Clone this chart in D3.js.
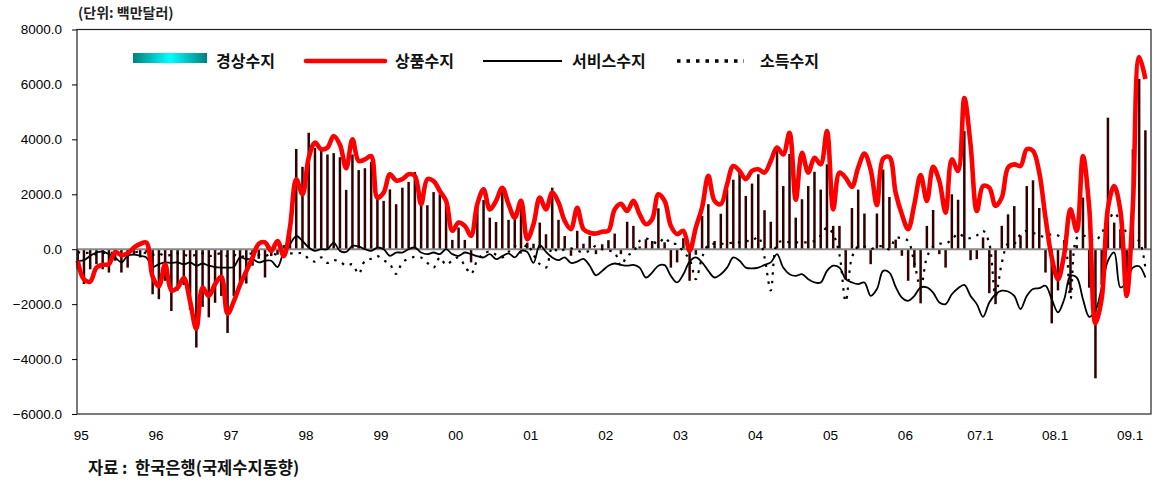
<!DOCTYPE html>
<html><head><meta charset="utf-8">
<script src="https://cdn.jsdelivr.net/npm/d3@7"></script>
<style>
body{margin:0;background:#fff;}
svg{display:block;}
</style></head>
<body>
<svg id="c" width="1153" height="484"></svg>
<script>
// ---- data (monthly, 1995.01 - 2009.04), unit: million USD ----
const xTickLabels = ["95","96","97","98","99","00","01","02","03","04","05","06","07.1","08.1","09.1"];
const yTicks = [-6000,-4000,-2000,0,2000,4000,6000,8000];
const seriesNames = ["경상수지","상품수지","서비스수지","소득수지"];

const currentAccount = [
 -730,-1270,-730,-545,-730,-850,-420,-850,-670,-180,-300,-120,
 -1640,-1820,-1150,-2250,-1500,-1300,-2200,-3580,-2100,-2480,-1950,-1700,
 -3050,-1700,-1250,-1250,-600,-350,-1030,-250,-200,150,900,3650,
 3000,4240,3690,3700,3450,3500,3350,2160,3450,2880,2950,3180,
 1880,1760,2180,1640,2240,2450,2810,1640,1600,2080,2000,1640,
 340,790,340,-480,1660,1790,1150,990,2150,1070,1150,1760,
 240,200,970,545,2240,1070,480,-240,670,200,480,-180,
 180,330,570,-180,1000,850,100,360,300,1490,250,-670,
 -480,400,-1150,-200,1210,1640,300,1290,2170,2530,2850,1940,
 2390,2730,1420,1000,3700,2300,3470,1150,1820,2300,2820,2170,
 3090,850,850,-1100,1500,2170,1300,-545,1300,2900,1900,350,
 -240,-1150,-670,-1970,850,1430,-180,-670,2000,1800,4300,-400,
 -360,430,-1600,-2000,850,1270,1570,500,2300,2510,1500,-850,
 -2700,-1500,300,-1580,150,1880,-1400,-4700,-1300,4790,970,730,
 -1600,3640,6200,4330
];
const goods = [
 -420,-1100,-1180,-670,-570,-545,-100,-220,-150,60,190,240,
 -1000,-1350,-545,-1500,-1400,-1050,-1900,-2900,-1400,-1700,-1270,-1000,
 -2350,-1900,-1300,-800,-300,200,250,-60,300,-250,800,2550,
 2000,3330,3880,3640,3700,4120,3800,2950,4000,3210,3270,3390,
 1880,2060,2730,2500,2550,2730,2670,1640,2550,2480,2120,1760,
 670,970,850,485,1640,2180,1450,1760,2240,1640,1150,1760,
 360,910,1880,1450,2060,1700,1030,730,1510,730,600,570,
 640,670,1450,1650,1390,1760,1270,910,1090,2000,1760,850,
 550,670,-60,790,1520,2670,1760,1640,2360,3030,2850,2550,
 2850,2910,2790,3210,3700,3450,4240,1800,3510,2790,3330,3090,
 4300,1450,2790,2600,2270,2970,3480,2900,1600,3300,3350,2060,
 1270,730,1640,2700,1760,3000,2480,1330,3270,2850,5500,3800,
 1390,2300,2240,1580,1880,2970,3090,3030,3640,3580,2790,1150,
 -300,-1090,-180,1450,670,3390,1520,-2700,-1800,1500,2300,1390,
 -1700,1600,7000,6200
];
const services = [
 -420,-400,-240,-120,-90,-180,-300,-480,-240,-200,-240,-300,
 -650,-545,-480,-500,-480,-550,-480,-600,-520,-600,-650,-670,
 -670,-650,-300,-360,-360,-480,-420,-420,-650,-100,180,480,
 300,60,-60,0,0,240,-60,-100,120,100,0,-60,
 60,0,-240,-120,-120,0,60,-120,-180,-120,-180,0,
 -180,-240,-120,-180,-250,-300,-180,-360,-250,-150,-300,-60,
 -100,-500,150,-100,-300,-400,-300,-500,-450,-350,-600,-950,
 -790,-600,-520,-570,-600,-570,-670,-1030,-850,-600,-580,-970,
 -1210,-910,-450,-300,-480,-790,-1030,-910,-670,-300,-420,-670,
 -700,-670,-570,-480,-180,-670,-910,-970,-910,-1090,-1210,-1210,
 -790,-600,-670,-1090,-1210,-1270,-1210,-1700,-1450,-790,-850,-1370,
 -1760,-1880,-1700,-1390,-1390,-1580,-1940,-2000,-1640,-1420,-1300,-1700,
 -2000,-2460,-1940,-1640,-1510,-1540,-1700,-2180,-1700,-1450,-1420,-1330,
 -1820,-2300,-1820,-970,-1030,-1820,-2460,-2240,-1390,-420,-120,-1390,
 -1200,-670,-620,-1030
];
const income = [
 -100,-150,-120,-200,-150,-100,-180,-150,-200,-120,-100,-150,
 -200,-150,-250,-200,-150,-200,-250,-200,-150,-250,-200,-150,
 -250,-200,-300,-200,-150,-200,-250,-150,-200,-100,-150,-150,
 -150,-350,-450,-300,-500,-400,-450,-600,-550,-900,-420,-350,
 -250,-400,-545,-900,-480,-350,-280,-300,-500,-670,-300,-570,
 -400,-300,-600,-900,-400,-180,-80,-200,-300,-100,120,-120,
 180,-200,-545,-670,60,-100,0,30,-50,-120,-50,120,
 0,-50,-120,-600,-240,-100,300,390,300,200,420,200,
 180,-100,-360,-1090,-300,150,200,200,200,250,250,300,
 300,450,-300,-1500,200,300,250,250,250,250,300,500,
 790,550,-200,-1900,-300,100,100,0,100,100,0,400,
 400,300,-500,-1400,-300,100,200,200,350,570,450,400,
 500,670,200,-1700,-500,200,200,545,670,600,500,450,
 550,500,300,-1800,400,500,400,300,600,970,1330,1000,
 600,400,300,-700
];
// month categories
const months = [];
for (let y = 1995; months.length < currentAccount.length; y++)
  for (let m = 1; m <= 12 && months.length < currentAccount.length; m++)
    months.push(y + "." + String(m).padStart(2, "0"));

// ---- drawing ----
const svg = d3.select("#c");
const L = 77, R = 1151, T = 29.5, B = 414;
const x = d3.scaleLinear().domain([0, months.length - 1]).range([77.7, 1145.4]);
const y = d3.scaleLinear().domain([-6000, 8000]).range([B, T]);
const latin = "'Liberation Sans', Arial, sans-serif";
const kor = "'Noto Sans CJK KR', 'Noto Sans', sans-serif";

// gradient for legend
const defs = svg.append("defs");
const g = defs.append("linearGradient").attr("id","teal").attr("x1","0").attr("x2","1").attr("y1","0").attr("y2","0");
g.append("stop").attr("offset","0").attr("stop-color","#008080");
g.append("stop").attr("offset","0.5").attr("stop-color","#00ffff");
g.append("stop").attr("offset","1").attr("stop-color","#008080");

// unit label
svg.append("text").attr("x", 78).attr("y", 18).attr("font-family", kor).attr("font-size", 14)
  .attr("font-weight","bold").attr("fill","#222").text("(단위: 백만달러)");

// bars (current account)
svg.append("g").selectAll("rect").data(currentAccount).join("rect")
  .attr("x", (d,i) => x(i) - 1.25)
  .attr("width", 2.5)
  .attr("y", d => Math.min(y(d), y(0)))
  .attr("height", d => Math.abs(y(d) - y(0)))
  .attr("fill", "#330000");

// zero line
svg.append("line").attr("x1", L).attr("x2", R).attr("y1", y(0)).attr("y2", y(0))
  .attr("stroke", "#888").attr("stroke-width", 2);

const curve = d3.curveCatmullRom.alpha(0.5);
const line = d3.line().x((d,i) => x(i)).y(d => y(d)).curve(curve);

// income (dotted)
svg.append("path").attr("d", line(income)).attr("fill","none").attr("stroke","#000")
  .attr("stroke-width", 2.2).attr("stroke-dasharray","2.5,6");
// services
svg.append("path").attr("d", line(services)).attr("fill","none").attr("stroke","#000")
  .attr("stroke-width", 1.8);
// goods
svg.append("path").attr("d", line(goods)).attr("fill","none").attr("stroke","#ff0000")
  .attr("stroke-width", 4.6).attr("stroke-linejoin","round");

// frame
svg.append("rect").attr("x", L).attr("y", T).attr("width", R - L).attr("height", B - T)
  .attr("fill","none").attr("stroke","#222").attr("stroke-width", 1.2);

// y axis
const yAxis = d3.axisLeft(y).tickValues(yTicks).tickFormat(d3.format(".1f")).tickSize(5).tickPadding(10);
const ya = svg.append("g").attr("transform", `translate(${L},0)`).call(yAxis);
ya.select(".domain").remove();
ya.selectAll("text").attr("font-family", latin).attr("font-size", 13.5).attr("fill","#000");
ya.selectAll("line").attr("stroke","#000");

// x axis labels
const xIdx = xTickLabels.map((d,k) => k * 12);
const xAxis = d3.axisBottom(x).tickValues(xIdx).tickFormat((d,k) => xTickLabels[k]).tickSize(0).tickPadding(16);
const xa = svg.append("g").attr("transform", `translate(3,${B})`).call(xAxis);
xa.select(".domain").remove();
xa.selectAll("text").attr("font-family", latin).attr("font-size", 13.5).attr("fill","#000");

// legend
const lg = svg.append("g").attr("font-family", kor).attr("font-size", 16).attr("font-weight","bold").attr("fill","#111");
lg.append("rect").attr("x",133).attr("y",53).attr("width",74).attr("height",10).attr("fill","url(#teal)");
lg.append("text").attr("x",216).attr("y",67).text(seriesNames[0]);
lg.append("line").attr("x1",306).attr("x2",385).attr("y1",61).attr("y2",61).attr("stroke","#ff0000").attr("stroke-width",4.6).attr("stroke-linecap","round");
lg.append("text").attr("x",395).attr("y",67).text(seriesNames[1]);
lg.append("line").attr("x1",483).attr("x2",562).attr("y1",61).attr("y2",61).attr("stroke","#000").attr("stroke-width",1.8);
lg.append("text").attr("x",572).attr("y",67).text(seriesNames[2]);
lg.append("line").attr("x1",677).attr("x2",744).attr("y1",61).attr("y2",61).attr("stroke","#000").attr("stroke-width",3.5).attr("stroke-dasharray","3.5,6");
lg.append("text").attr("x",760).attr("y",67).text(seriesNames[3]);

// source note
svg.append("text").attr("x", 88).attr("y", 474).attr("font-family", kor).attr("font-size", 16.5)
  .attr("font-weight","bold").attr("fill","#111").attr("xml:space","preserve")
  .text("자료 :  한국은행(국제수지동향)");
</script>
</body></html>
